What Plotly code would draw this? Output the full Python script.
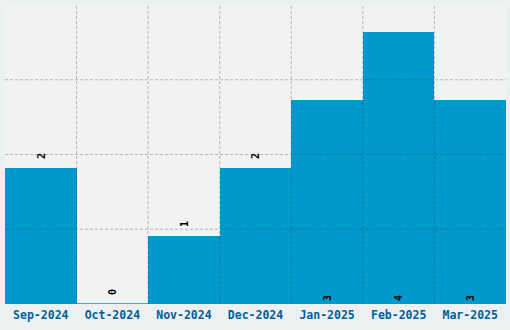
import plotly.graph_objects as go

months = ["Sep-2024", "Oct-2024", "Nov-2024", "Dec-2024", "Jan-2025", "Feb-2025", "Mar-2025"]
counts = [2, 0, 1, 2, 3, 4, 3]
label_pos = ["outside", "outside", "outside", "outside", "inside", "inside", "inside"]
y_max = 4.4
grid_vals = [1.1, 2.2, 3.3]

bar_color = "#0099cc"
grid_color = "rgba(60,60,60,0.32)"

labels = [("\u2009" + str(v)) if p == "outside" else str(v) for v, p in zip(counts, label_pos)]

font_lbl = dict(family="DejaVu Sans Mono", size=10, color="#000000", weight="bold")

fig = go.Figure(go.Bar(
    x=months,
    y=counts,
    text=labels,
    textposition=label_pos,
    insidetextanchor="start",
    textangle=-90,
    cliponaxis=False,
    textfont=font_lbl,
    insidetextfont=font_lbl,
    outsidetextfont=font_lbl,
    marker=dict(color=bar_color, line=dict(width=0)),
    hoverinfo="skip",
))

shapes = []
# zero-valued bars drawn as a thin base line
for i, v in enumerate(counts):
    if v == 0:
        shapes.append(dict(type="line", xref="x", yref="y", x0=i - 0.5, x1=i + 0.5,
                           y0=0, y1=0, line=dict(color=bar_color, width=1.5), layer="above"))
# gridlines drawn above bars
for i in range(1, len(months)):
    shapes.append(dict(type="line", xref="x", yref="paper", x0=i - 0.5, x1=i - 0.5,
                       y0=0, y1=1, line=dict(color=grid_color, width=1, dash="3px,2px"),
                       layer="above"))
for g in grid_vals:
    shapes.append(dict(type="line", xref="paper", yref="y", x0=0, x1=1,
                       y0=g, y1=g, line=dict(color=grid_color, width=1, dash="3px,2px"),
                       layer="above"))

fig.update_layout(
    width=510, height=330,
    margin=dict(l=5, r=4, t=5, b=26),
    paper_bgcolor="#ecf0f1",
    plot_bgcolor="#f2f2f2",
    bargap=0,
    showlegend=False,
    shapes=shapes,
    xaxis=dict(
        type="category",
        showgrid=False, zeroline=False, showline=False, ticks="",
        ticklabelstandoff=2,
        tickfont=dict(family="DejaVu Sans Mono", size=11.5, color="#00609a", weight="bold"),
    ),
    yaxis=dict(
        range=[0, y_max], showgrid=False, zeroline=False, showline=False,
        showticklabels=False, ticks="",
    ),
)

fig.write_html("out.html")
